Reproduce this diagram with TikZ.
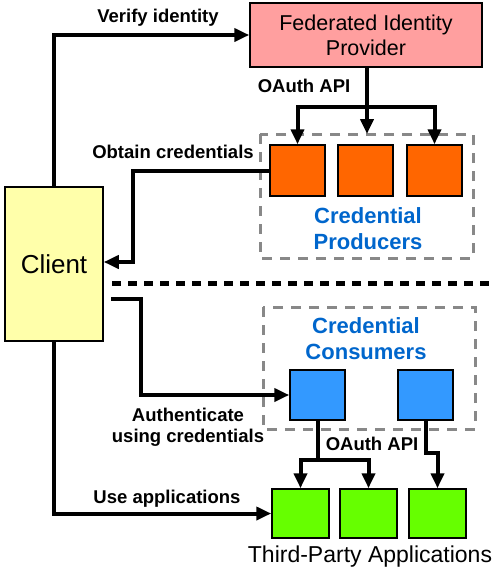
\documentclass[tikz,border=0pt]{standalone}
\usepackage{fontspec}
\setmainfont{Liberation Sans}
\usetikzlibrary{arrows.meta}
\definecolor{provfill}{HTML}{FF9F9F}
\definecolor{prodfill}{HTML}{FF6600}
\definecolor{consfill}{HTML}{3399FF}
\definecolor{appfill}{HTML}{66FF00}
\definecolor{clientfill}{HTML}{FFFFAA}
\definecolor{grouptext}{HTML}{0066CC}
\definecolor{groupline}{HTML}{888888}
\tikzset{
  box/.style={draw=black, line width=1.5pt, inner sep=0pt},
  sq/.style={box, minimum width=55pt, minimum height=51pt},
  flow/.style={line width=4pt, -{Triangle[length=15pt,width=13pt]}},
  flowline/.style={line width=4pt},
  lbl/.style={font=\fontsize{18.5}{21}\selectfont\bfseries, inner sep=0pt, align=center},
  grp/.style={font=\fontsize{22}{26}\selectfont\bfseries, text=grouptext, inner sep=0pt, align=center},
  grpbox/.style={draw=groupline, line width=3pt, dash pattern=on 10pt off 8pt},
}
\begin{document}
\begin{tikzpicture}[x=1pt, y=-1pt]
\useasboundingbox (0,0) rectangle (493,576);
% group boxes
\draw[grpbox] (260,134) rectangle (473,258);
\draw[grpbox] (263,307) rectangle (475,429);
% nodes
\node[box, fill=provfill, minimum width=232pt, minimum height=64pt, align=center,
  font=\fontsize{21.5}{25}\selectfont] (prov) at (366,35) {Federated Identity\\Provider};
\node[box, fill=clientfill, minimum width=98pt, minimum height=154pt,
  font=\fontsize{26}{30}\selectfont] (client) at (54,264) {Client};
\node[sq, fill=prodfill] (p1) at (297.5,170.5) {};
\node[sq, fill=prodfill] (p2) at (365.5,170.5) {};
\node[sq, fill=prodfill] (p3) at (434.5,170.5) {};
\node[sq, fill=consfill, minimum height=50pt] (c1) at (317.5,395) {};
\node[sq, fill=consfill, minimum height=50pt] (c2) at (425.5,395) {};
\node[sq, fill=appfill, minimum width=57pt, minimum height=49pt] (a1) at (300.5,513.5) {};
\node[sq, fill=appfill, minimum width=57pt, minimum height=49pt] (a2) at (368.5,513.5) {};
\node[sq, fill=appfill, minimum width=57pt, minimum height=49pt] (a3) at (437.5,513.5) {};
% labels
\node[lbl] (lverify) at (158,18) {Verify identity};
\node[lbl] (loauth1) at (304,86) {OAuth API};
\node[lbl] (lobtain) at (173,152) {Obtain credentials};
\node[grp] (lprod) at (368,229) {Credential\\Producers};
\node[grp] (lcons) at (366,339) {Credential\\Consumers};
\node[lbl] (lauth) at (188,427) {Authenticate\\using credentials};
\node[lbl] (loauth2) at (372,444) {OAuth API};
\node[lbl] (luse) at (167,499) {Use applications};
\node[inner sep=0pt, font=\fontsize{23}{27}\selectfont] (lthird) at (370,557) {Third-Party Applications};
% coordinates
\coordinate (pmid) at (367,134);
\coordinate (authstart) at (111,299);
\coordinate (dashstart) at (112,283);
\coordinate (dashend) at (493,283);
% dashed separator
\draw[line width=5pt, dash pattern=on 9pt off 7pt] (dashstart) -- (dashend);
% connectors
\draw[flow] (client.north) |- (prov.west);
\draw[flow] (prov.south -| pmid) -- (pmid);
\draw[flowline] (297.5,107) -- (434.5,107);
\draw[flow] (297.5,105) -- (p1.north);
\draw[flow] (434.5,105) -- (p3.north);
\draw[flow] (p1.west) -- (133,170.5) -- (133,262) -- (client.east |- 0,262);
\draw[flow] (authstart) -- (141,299) |- (c1.west);
\draw[flow] (client.south) |- (a1.west);
\draw[flowline] (c1.south) -- (317.5,460);
\draw[flowline] (300.5,460) -- (368.5,460);
\draw[flow] (300.5,458) -- (a1.north);
\draw[flow] (368.5,458) -- (a2.north);
\draw[flow] (c2.south) -- (425.5,453) -| (a3.north);
\end{tikzpicture}
\end{document}
